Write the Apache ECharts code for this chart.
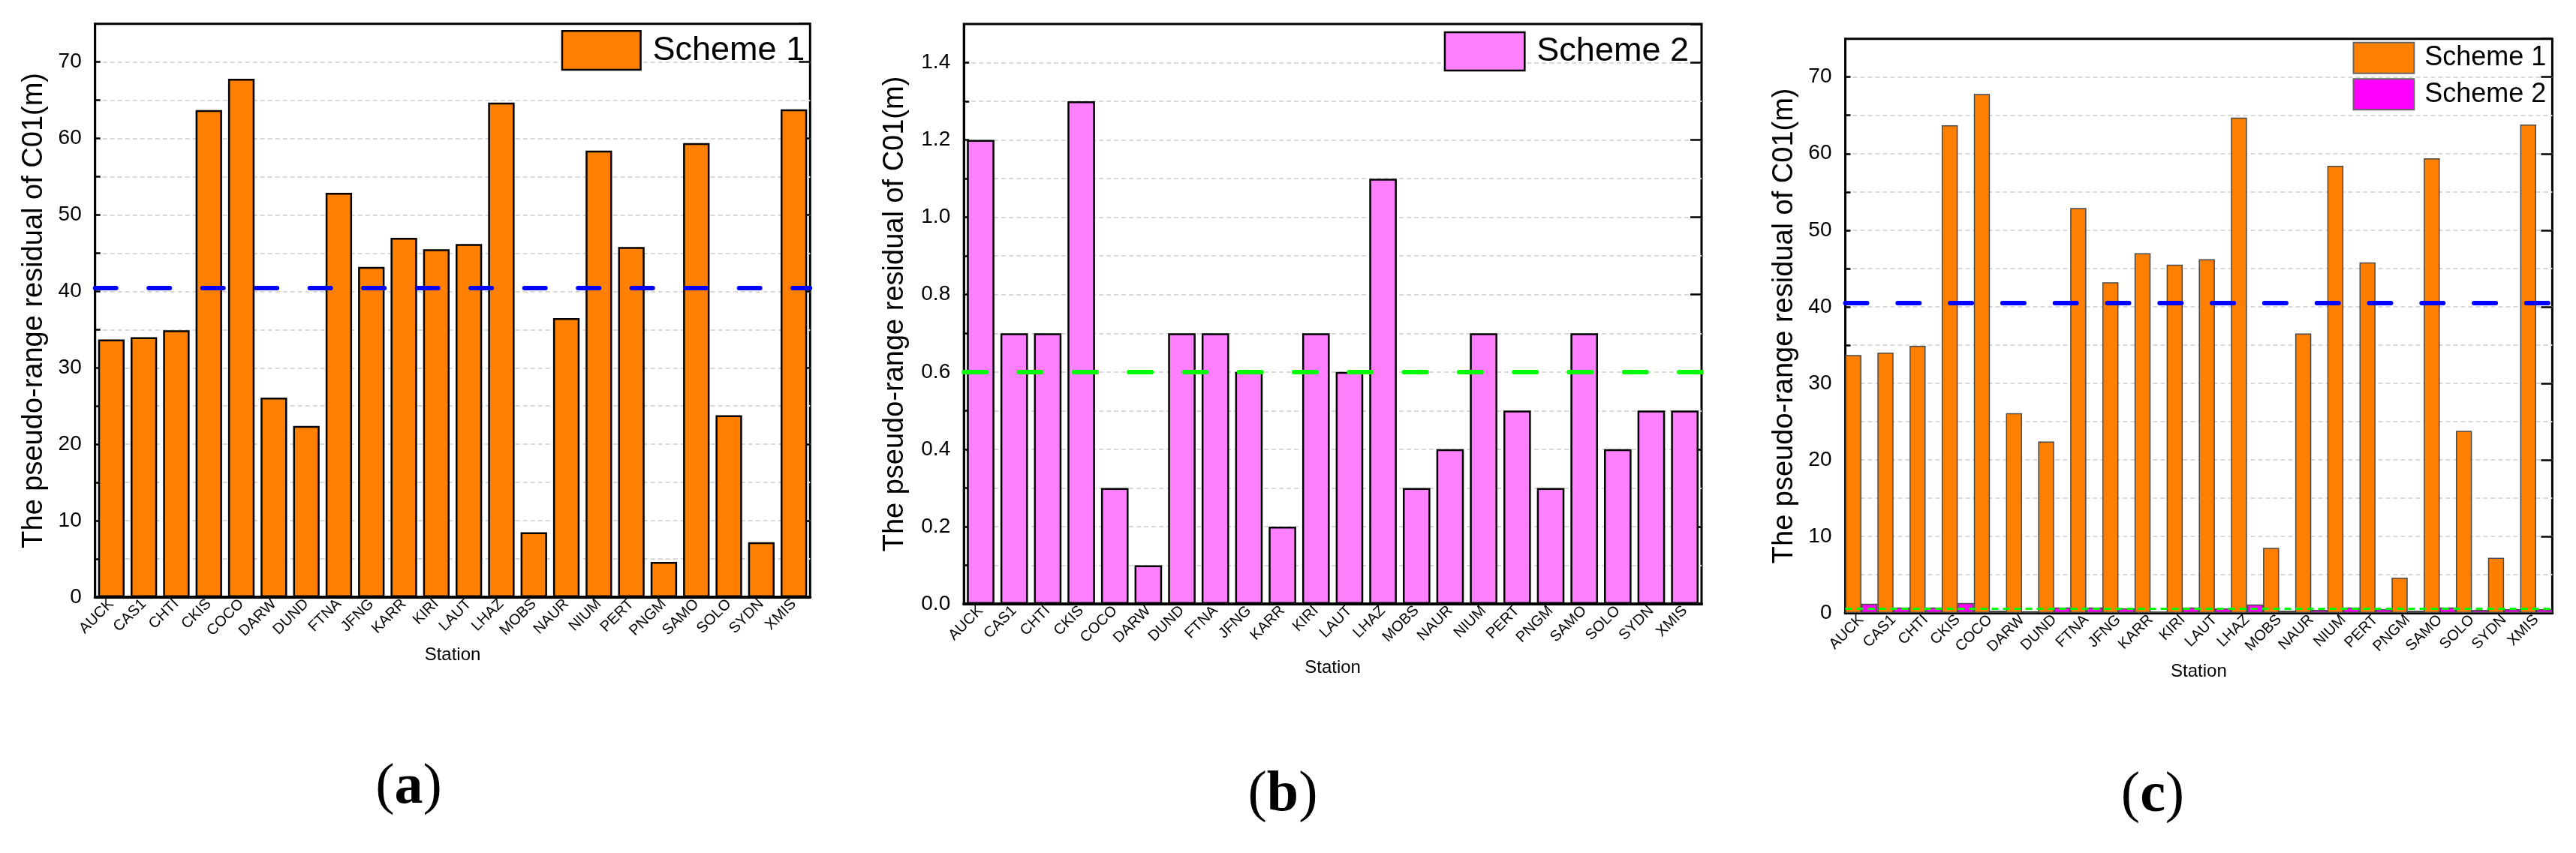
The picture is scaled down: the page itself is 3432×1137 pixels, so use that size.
<!DOCTYPE html>
<html>
<head>
<meta charset="utf-8">
<script src="https://cdn.jsdelivr.net/npm/echarts@6/dist/echarts.min.js"></script>
<style>
html,body{margin:0;padding:0;background:#fff;overflow:hidden;}
#chart{width:3432px;height:1137px;}
</style>
</head>
<body>
<div id="chart"></div>
<script>
// ---- data ----
const stations = ['AUCK','CAS1','CHTI','CKIS','COCO','DARW','DUND','FTNA','JFNG','KARR','KIRI','LAUT','LHAZ','MOBS','NAUR','NIUM','PERT','PNGM','SAMO','SOLO','SYDN','XMIS'];
const scheme1 = [33.7, 34.0, 34.9, 63.7, 67.8, 26.1, 22.4, 52.9, 43.2, 47.0, 45.5, 46.2, 64.7, 8.5, 36.5, 58.4, 45.8, 4.6, 59.4, 23.8, 7.2, 63.8];
const scheme2 = [1.2, 0.7, 0.7, 1.3, 0.3, 0.1, 0.7, 0.7, 0.6, 0.2, 0.7, 0.6, 1.1, 0.3, 0.4, 0.7, 0.5, 0.3, 0.7, 0.4, 0.5, 0.5];
const mean1 = 40.5;
const mean2 = 0.6;
const yMax1 = 75, yMajor1 = 10, yMinor1 = 5;
const yMax2 = 1.5, yMajor2 = 0.2, yMinor2 = 0.1;
const seriesNames = ['Scheme 1', 'Scheme 2'];
const panelLabels = ['a', 'b', 'c'];
const yTitle = 'The pseudo-range residual of C01(m)';
const xTitle = 'Station';

const FONT = 'Liberation Sans, Arial, sans-serif';
const grids = [
  {left: 126.7,  top: 31.7, width: 952.6, height: 764.3},
  {left: 1284.2, top: 32,   width: 982.8, height: 773},
  {left: 2458.5, top: 51.7, width: 941.9, height: 765.3}
];
const nameGapsY = [62, 73, 62];
const nameGapsX = [65, 73, 66];

function fmt1(v){ return Math.round(v) % yMajor1 === 0 ? String(Math.round(v)) : ''; }
function fmt2(v){ const k = Math.round(v * 10); return k % 2 === 0 ? (k / 10).toFixed(1) : ''; }

const yAxis = [];
function addY(gi, max, minor, major, fmt){
  yAxis.push({
    type: 'value', gridIndex: gi, min: 0, max: max, interval: minor,
    axisLine: {show: true, lineStyle: {color: '#000', width: 3}},
    axisTick: {show: true, inside: true, length: 7, lineStyle: {color: '#000', width: 2.5}},
    axisLabel: {formatter: fmt, fontSize: 28, fontFamily: FONT, color: '#000', margin: 18, showMaxLabel: false},
    splitLine: {show: true, showMaxLine: false, lineStyle: {color: '#dadada', type: [6, 4], width: 2}},
    name: yTitle, nameLocation: 'middle', nameGap: nameGapsY[gi],
    nameTextStyle: {fontSize: 38, fontFamily: FONT, color: '#000'}
  });
  yAxis.push({
    type: 'value', gridIndex: gi, min: 0, max: max, interval: major,
    axisLine: {show: false}, axisLabel: {show: false}, splitLine: {show: false},
    axisTick: {show: true, inside: true, length: 15, lineStyle: {color: '#000', width: 2.5}}
  });
}
addY(0, yMax1, yMinor1, yMajor1, fmt1);
addY(1, yMax2, yMinor2, yMajor2, fmt2);
addY(2, yMax1, yMinor1, yMajor1, fmt1);

const xAxis = [];
grids.forEach((g, gi) => {
  xAxis.push({
    type: 'category', gridIndex: gi, data: stations, boundaryGap: true, position: 'bottom',
    axisLine: {lineStyle: {color: '#000', width: 4}},
    axisTick: {show: false},
    axisLabel: {interval: 0, rotate: 45, fontSize: 20, fontFamily: FONT, color: '#000', margin: 6, padding: [30, 0, 0, 0]},
    name: xTitle, nameLocation: 'middle', nameGap: nameGapsX[gi],
    nameTextStyle: {fontSize: 24, fontFamily: FONT, color: '#000'}
  });
});
grids.forEach((g, gi) => {
  // top frame line of each panel
  xAxis.push({
    type: 'category', gridIndex: gi, data: stations, position: 'top',
    axisLine: {show: true, lineStyle: {color: '#000', width: 3}},
    axisTick: {show: false}, axisLabel: {show: false}, splitLine: {show: false}
  });
});

function meanLine(val, color, width, dash, cap){
  return {
    silent: true, symbol: ['none', 'none'], label: {show: false},
    lineStyle: {color: color, width: width, type: dash, cap: cap, opacity: 1},
    emphasis: {disabled: true},
    data: [{yAxis: val}]
  };
}

const series = [
  {name: seriesNames[0], type: 'bar', xAxisIndex: 0, yAxisIndex: 0, data: scheme1, barCategoryGap: '18.5%',
   itemStyle: {color: '#ff8000', borderColor: '#000', borderWidth: 2.5},
   markLine: meanLine(mean1, '#0000ff', 6, [28, 43.5], 'round')},
  {name: seriesNames[1], type: 'bar', xAxisIndex: 1, yAxisIndex: 2, data: scheme2, barCategoryGap: '18%',
   itemStyle: {color: '#ff80ff', borderColor: '#000', borderWidth: 2.5},
   markLine: meanLine(mean2, '#00ff00', 6, [30, 43.3], 'round')},
  {name: seriesNames[0], type: 'bar', xAxisIndex: 2, yAxisIndex: 4, data: scheme1, barCategoryGap: '0%', barGap: '0%',
   itemStyle: {color: '#ff8000', borderColor: '#4a4a4a', borderWidth: 1.5},
   markLine: meanLine(mean1, '#0000ff', 6, [29, 40.8], 'round')},
  {name: seriesNames[1], type: 'bar', xAxisIndex: 2, yAxisIndex: 4, data: scheme2, barCategoryGap: '0%', barGap: '0%',
   itemStyle: {color: '#ff00ff', borderColor: '#4a4a4a', borderWidth: 1.5},
   markLine: meanLine(mean2, '#00ff00', 3, [9, 6], 'butt')}
];

const legend = [
  {data: [{name: seriesNames[0], itemStyle: {color: '#ff8000'}}], left: 747.7, top: 40, padding: 0,
   itemWidth: 104.6, itemHeight: 51.7, icon: 'rect', selectedMode: false,
   itemStyle: {borderColor: '#000', borderWidth: 2.5},
   textStyle: {fontSize: 45, fontFamily: FONT, color: '#000', padding: [0, 0, 0, 11]}},
  {data: [{name: seriesNames[1], itemStyle: {color: '#ff80ff'}}], left: 1923.7, top: 41.7, padding: 0,
   itemWidth: 106.4, itemHeight: 51, icon: 'rect', selectedMode: false,
   itemStyle: {borderColor: '#000', borderWidth: 2.5},
   textStyle: {fontSize: 45, fontFamily: FONT, color: '#000', padding: [0, 0, 0, 11]}},
  {data: [{name: seriesNames[0], itemStyle: {color: '#ff8000'}}, {name: seriesNames[1], itemStyle: {color: '#ff00ff'}}],
   left: 3134.5, top: 55.7, padding: 0, orient: 'vertical', itemGap: 5.6,
   itemWidth: 80.8, itemHeight: 41, icon: 'rect', selectedMode: false,
   itemStyle: {borderColor: '#666', borderWidth: 2},
   textStyle: {fontSize: 36, fontFamily: FONT, color: '#000', padding: [0, 0, 0, 9]}}
];

const labelPos = [[544.5, 1050], [1709, 1060], [2868, 1061]];
const SERIF = 'Liberation Serif, Times New Roman, serif';
const graphic = panelLabels.map((l, i) => ({
  type: 'text', x: labelPos[i][0], y: labelPos[i][1],
  style: {
    text: '{p|(}{l|' + l + '}{p|)}',
    align: 'center', verticalAlign: 'middle',
    fontFamily: SERIF, fontSize: 76, fill: '#000',
    rich: {
      p: {fontFamily: SERIF, fontSize: 76, fontWeight: 'normal'},
      l: {fontFamily: SERIF, fontSize: 76, fontWeight: 'bold'}
    }
  }
}));

const chart = echarts.init(document.getElementById('chart'), null, {renderer: 'canvas'});
chart.setOption({
  animation: false,
  backgroundColor: '#fff',
  grid: grids.map(g => Object.assign({show: true, borderColor: '#000', borderWidth: 3, backgroundColor: 'transparent', containLabel: false}, g)),
  xAxis: xAxis,
  yAxis: yAxis,
  legend: legend,
  series: series,
  graphic: graphic
});
</script>
</body>
</html>
